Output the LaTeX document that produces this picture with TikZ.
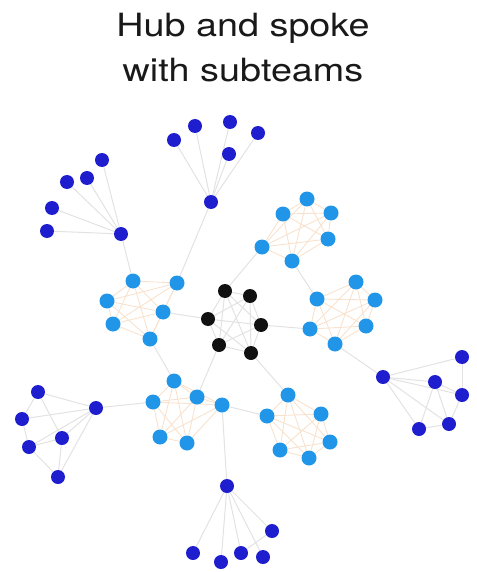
\documentclass[tikz,border=0pt]{standalone}
\usepackage{fontspec}
\setmainfont{TeX Gyre Heros}
\newfontfamily\headingfont[FakeStretch=1.18]{TeX Gyre Heros}
\usetikzlibrary{backgrounds}

\definecolor{hubcol}{HTML}{111111}
\definecolor{teamcol}{HTML}{2196E8}
\definecolor{subcol}{HTML}{1E1ECF}
\definecolor{linkgray}{HTML}{E2E2E2}
\definecolor{linkpeach}{HTML}{F8E2CE}

\tikzset{
  member/.style={circle, inner sep=0pt, minimum size=14pt},
  hubnode/.style={member, fill=hubcol},
  teamnode/.style={member, fill=teamcol, minimum size=15pt},
  subnode/.style={member, fill=subcol},
  link/.style={draw=linkgray, line width=1pt},
  teamlink/.style={draw=linkpeach, line width=0.9pt},
  heading/.style={font=\headingfont\fontsize{32}{38}\selectfont, anchor=base, text=black!90}
}

\begin{document}
\begin{tikzpicture}[x=1pt, y=-1pt]
\useasboundingbox (0,0) rectangle (476,572);

% title
\node[heading] (title1) at (243,37) {Hub and spoke};
\node[heading] (title2) at (243,82) {with subteams};

% central hub
\foreach \n/\x/\y in {1/225/291, 2/250/296, 3/208/319, 4/261/325, 5/219/345, 6/251/353}
  \node[hubnode] (k\n) at (\x,\y) {};

% five teams around the hub
\foreach \n/\x/\y in {1/307/199, 2/283/214, 3/331/213, 4/262/247, 5/328/239, 6/292/261}
  \node[teamnode] (a\n) at (\x,\y) {};
\foreach \n/\x/\y in {1/356/282, 2/317/299, 3/375/300, 4/310/329, 5/366/326, 6/335/344}
  \node[teamnode] (b\n) at (\x,\y) {};
\foreach \n/\x/\y in {1/288/395, 2/267/416, 3/321/414, 4/330/442, 5/280/450, 6/309/458}
  \node[teamnode] (c\n) at (\x,\y) {};
\foreach \n/\x/\y in {1/174/381, 2/153/402, 3/197/397, 4/222/405, 5/160/437, 6/187/443}
  \node[teamnode] (d\n) at (\x,\y) {};
\foreach \n/\x/\y in {1/133/281, 2/177/283, 3/107/301, 4/163/312, 5/113/324, 6/150/339}
  \node[teamnode] (e\n) at (\x,\y) {};

% subteams on the outer ring (index 0 is the subteam lead)
\foreach \n/\x/\y in {0/121/234, 1/102/160, 2/87/178, 3/67/182, 4/52/208, 5/47/231}
  \node[subnode] (f\n) at (\x,\y) {};
\foreach \n/\x/\y in {0/211/202, 1/174/140, 2/195/126, 3/230/122, 4/229/154, 5/258/133}
  \node[subnode] (g\n) at (\x,\y) {};
\foreach \n/\x/\y in {0/383/377, 1/462/357, 2/435/382, 3/462/395, 4/449/424, 5/419/429}
  \node[subnode] (h\n) at (\x,\y) {};
\foreach \n/\x/\y in {0/227/486, 1/272/531, 2/193/553, 3/221/562, 4/241/553, 5/263/557}
  \node[subnode] (i\n) at (\x,\y) {};
\foreach \n/\x/\y in {0/96/408, 1/38/392, 2/22/419, 3/62/438, 4/29/447, 5/58/477}
  \node[subnode] (j\n) at (\x,\y) {};

\begin{scope}[on background layer]
  % everyone in the hub and in each team knows everyone else
  \foreach \i in {1,...,5} {
    \pgfmathtruncatemacro\nxt{\i+1}
    \foreach \j in {\nxt,...,6} {
      \draw[link] (k\i) -- (k\j);
      \foreach \t in {a,b,c,d,e}
        \draw[teamlink] (\t\i) -- (\t\j);
    }
  }
  % subteams: leads connect to their members
  \foreach \t in {f,g,h,i,j}
    \foreach \m in {1,...,5}
      \draw[link] (\t0) -- (\t\m);
  \foreach \p/\q in {i1/i4, h1/h3, h2/h5, h2/h4, h5/h4, h3/h4, h2/h3,
                     j1/j2, j1/j3, j3/j5, j4/j5, j2/j4, j4/j3}
    \draw[link] (\p) -- (\q);
  % links between groups
  \foreach \p/\q in {k1/a4, k4/b4, k6/c1, k5/d3, k3/e4, a6/b2, b6/h0,
                     d4/c2, d4/i0, d2/j0, e6/d1, e2/g0, e1/f0}
    \draw[link] (\p) -- (\q);
\end{scope}
\end{tikzpicture}
\end{document}
